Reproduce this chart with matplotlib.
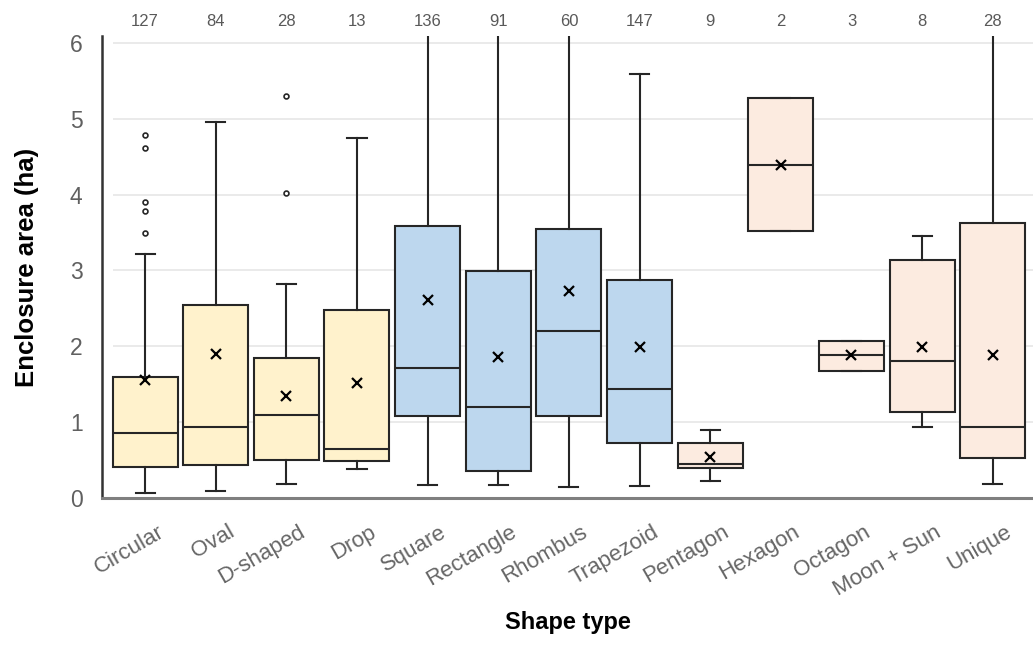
import numpy as np
import matplotlib.pyplot as plt
import matplotlib.transforms as mtransforms

plt.rcParams['font.family'] = ['Liberation Sans', 'DejaVu Sans']

shapes = ['Circular', 'Oval', 'D-shaped', 'Drop', 'Square', 'Rectangle', 'Rhombus',
          'Trapezoid', 'Pentagon', 'Hexagon', 'Octagon', 'Moon + Sun', 'Unique']
groups = ['round'] * 4 + ['angular'] * 4 + ['other'] * 5
counts = [127, 84, 28, 13, 136, 91, 60, 147, 9, 2, 3, 8, 28]

# five-number summaries + mean (ha)
whis_lo = [0.07, 0.09, 0.19, 0.38, 0.17, 0.17, 0.15, 0.16, 0.22, 3.52, 1.68, 0.93, 0.18]
q1      = [0.41, 0.43, 0.50, 0.49, 1.08, 0.36, 1.08, 0.72, 0.39, 3.52, 1.68, 1.13, 0.53]
median  = [0.86, 0.94, 1.10, 0.65, 1.71, 1.20, 2.20, 1.43, 0.45, 4.39, 1.89, 1.80, 0.93]
q3      = [1.60, 2.55, 1.84, 2.48, 3.59, 2.99, 3.55, 2.87, 0.72, 5.27, 2.07, 3.14, 3.62]
whis_hi = [3.22, 4.96, 2.82, 4.75, 7.5, 8.0, 7.8, 5.59, 0.89, 5.27, 2.07, 3.45, 9.0]
means   = [1.55, 1.90, 1.34, 1.52, 2.61, 1.86, 2.73, 1.99, 0.54, 4.39, 1.88, 1.99, 1.88]
outliers = {
    'Circular': [3.50, 3.78, 3.90, 4.62, 4.78],
    'D-shaped': [4.02, 5.30],
}

group_colors = {'round': '#FFF2CC', 'angular': '#BDD7EE', 'other': '#FCEBE0'}
ink = '#262626'
grey = '#595959'

stats = []
for i, name in enumerate(shapes):
    stats.append(dict(label=name, whislo=whis_lo[i], q1=q1[i], med=median[i],
                      q3=q3[i], whishi=whis_hi[i], mean=means[i],
                      fliers=outliers.get(name, [])))

fig = plt.figure(figsize=(10.33, 6.45), dpi=100)
ax = fig.add_axes([0.0987, 0.228, 0.9013, 0.716])

pos = np.arange(len(shapes))
ax.set_xlim(-0.61, len(shapes) - 0.43)
ax.set_ylim(0, 6.09)

# light horizontal gridlines
ax.hlines(np.arange(1, 7), -0.46, len(shapes) - 0.43, color='#E6E6E6', lw=1.2, zorder=0)

bp = ax.bxp(stats, positions=pos, widths=0.92, capwidths=0.27, patch_artist=True,
            showmeans=True, showfliers=True,
            boxprops=dict(edgecolor=ink, linewidth=1.5),
            medianprops=dict(color=ink, linewidth=1.5),
            whiskerprops=dict(color=ink, linewidth=1.5),
            capprops=dict(color=ink, linewidth=1.5),
            meanprops=dict(marker='x', markeredgecolor='black', markersize=7, markeredgewidth=1.6),
            flierprops=dict(marker='o', markersize=3.5, markerfacecolor='white',
                            markeredgecolor=ink, markeredgewidth=1.2))
for patch, g in zip(bp['boxes'], groups):
    patch.set_facecolor(group_colors[g])

# sample sizes above each box
for x, n in zip(pos, counts):
    ax.annotate(str(n), xy=(x, 1.0), xycoords=('data', 'axes fraction'),
                xytext=(0, 5), textcoords='offset points',
                ha='center', va='bottom', fontsize=12, color=grey)

ax.spines['top'].set_visible(False)
ax.spines['right'].set_visible(False)
ax.spines['left'].set_color('#333333')
ax.spines['left'].set_linewidth(1.8)
ax.spines['bottom'].set_color('#7F7F7F')
ax.spines['bottom'].set_linewidth(2.2)

ax.set_yticks(np.arange(0, 7))
ax.tick_params(axis='y', length=0, pad=14, labelsize=16.5, labelcolor='#606060')
ax.tick_params(axis='x', length=0, pad=17)
ax.set_xticks(pos)
ax.set_xticklabels(shapes, rotation=30, ha='right', rotation_mode='anchor',
                   fontsize=16, color='#666666')
shift = mtransforms.ScaledTranslation(0.12, 0, fig.dpi_scale_trans)
for lab in ax.get_xticklabels():
    lab.set_transform(lab.get_transform() + shift)

ax.set_ylabel('Enclosure area (ha)', fontsize=18.5, fontweight='bold', labelpad=22)
ax.set_xlabel('Shape type', fontsize=17, fontweight='bold', labelpad=8)

fig.savefig('out.png', dpi=100)
